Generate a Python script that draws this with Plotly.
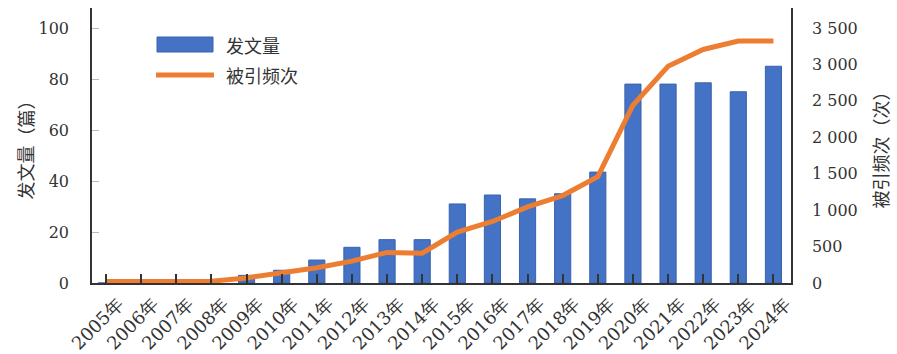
import plotly.graph_objects as go

years = [f"{y}年" for y in range(2005, 2025)]
papers = [0, 0, 0, 0, 3, 5, 9, 14, 17, 17, 31, 34.5, 33, 35, 43.5, 78, 78, 78.5, 75, 85]
citations = [20, 20, 20, 25, 70, 140, 210, 300, 420, 410, 700, 845, 1045, 1200, 1460, 2440, 2975, 3205, 3320, 3320]

left_ticks = [0, 20, 40, 60, 80, 100]
right_ticks = [0, 500, 1000, 1500, 2000, 2500, 3000, 3500]
right_labels = ["0", "500", "1 000", "1 500", "2 000", "2 500", "3 000", "3 500"]

FONT = "DejaVu Serif"
CJK = "Noto Sans CJK SC"
BLUE = "#4472C4"
ORANGE = "#ED7D31"

W, H = 897, 354
L, R, T, B = 92, 791, 8, 283

fig = go.Figure()
fig.add_trace(go.Bar(x=years, y=papers, name="发文量", marker=dict(color=BLUE, line=dict(color="#3a62ad", width=1)),
                     width=0.46, yaxis="y"))
fig.add_trace(go.Scatter(x=years, y=citations, name="被引频次", mode="lines",
                         line=dict(color=ORANGE, width=5), yaxis="y2"))

def px(x):
    return (x - L) / (R - L)

def py(y):
    return (B - y) / (B - T)

shapes = [
    dict(type="rect", xref="paper", yref="paper", x0=px(157), x1=px(213), y0=py(52), y1=py(37),
         fillcolor=BLUE, line=dict(color="#3a62ad", width=1)),
    dict(type="line", xref="paper", yref="paper", x0=px(156), x1=px(214), y0=py(75), y1=py(75),
         line=dict(color=ORANGE, width=5)),
]
annotations = [
    dict(text="发文量", xref="paper", yref="paper", x=px(224), y=py(45), xanchor="left", yanchor="middle",
         showarrow=False, font=dict(family=CJK, size=18, color="#333")),
    dict(text="被引频次", xref="paper", yref="paper", x=px(224), y=py(75), xanchor="left", yanchor="middle",
         showarrow=False, font=dict(family=CJK, size=18, color="#333")),
]

fig.update_layout(
    width=W, height=H,
    margin=dict(l=L, r=W - R, t=T, b=H - B),
    paper_bgcolor="white", plot_bgcolor="white",
    showlegend=False,
    font=dict(family=FONT, size=16, color="#333"),
    shapes=shapes, annotations=annotations,
    xaxis=dict(type="category", range=[-0.4, 19.5], showline=True, linecolor="#333", linewidth=1.5,
               ticks="inside", ticklen=9, tickcolor="#333", tickwidth=1.5, tickangle=-45,
               ticklabelshift=12, ticklabelstandoff=2, automargin=False,
               tickfont=dict(family=FONT, size=18, color="#333"), showgrid=False, zeroline=False),
    yaxis=dict(range=[0, 100 * (B - T) / 255], tickvals=left_ticks, showline=True, linecolor="#333",
               linewidth=1.5, ticks="inside", ticklen=7, tickcolor="#bbb", showgrid=False, zeroline=False,
               ticklabelstandoff=18, automargin=False, tickfont=dict(family=FONT, size=16, color="#333"),
               title=dict(text="发文量（篇）", font=dict(family=CJK, size=18, color="#333"), standoff=0)),
    yaxis2=dict(range=[0, 3500 * (B - T) / 255], overlaying="y", side="right", tickvals=right_ticks,
                ticktext=right_labels, showline=True, linecolor="#333", linewidth=1.5, ticks="",
                showgrid=False, zeroline=False, ticklabelstandoff=16, automargin=False,
                tickfont=dict(family=FONT, size=16, color="#333"),
                title=dict(text="被引频次（次）", font=dict(family=CJK, size=18, color="#333"), standoff=19)),
)

fig.write_html("out.html")
